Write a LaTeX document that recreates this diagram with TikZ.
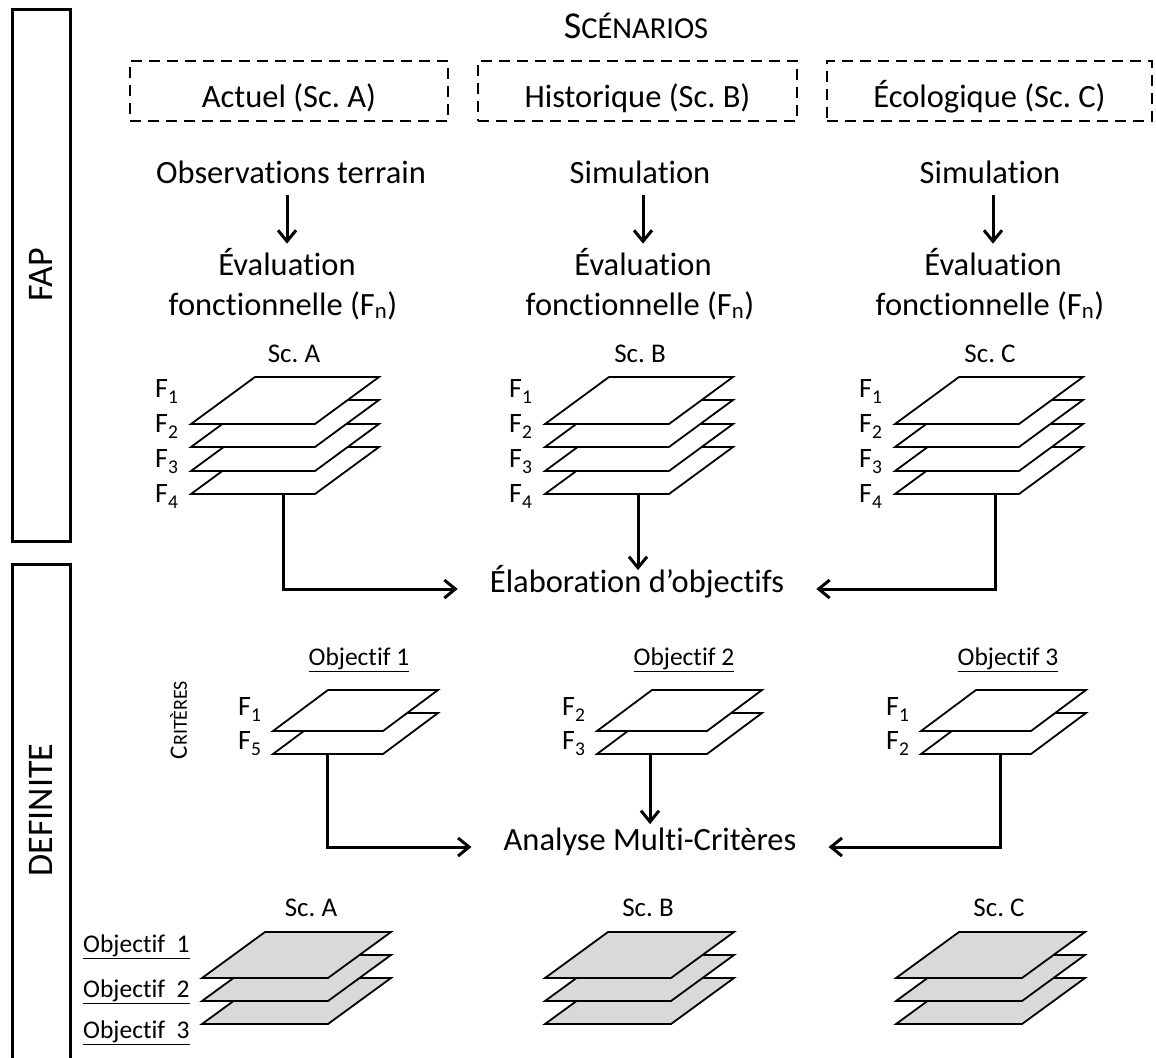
\documentclass[tikz,border=0pt]{standalone}
\usepackage{fontspec}
\setmainfont{Carlito}[Ligatures=NoCommon]
\usetikzlibrary{arrows.meta}
\definecolor{planegray}{RGB}{217,217,217}
\newcommand\fsz[1]{\fontsize{#1}{#1}\selectfont}
\newcommand\fsub[1]{\raisebox{-0.24em}{\fontsize{19.5}{19.5}\selectfont#1}}
\newcommand\myplane[6]{\draw[plane,fill=#6] (#1,#2) -- ++(#3,0) -- ++(#4,-#5) -- ++(-#3,0) -- cycle;}
\tikzset{
  txt/.style={inner sep=0pt, font=\fsz{32.5}},
  lbl/.style={inner sep=0pt, font=\fsz{27}},
  flbl/.style={inner sep=0pt, font=\fsz{28}},
  objlbl/.style={inner sep=0pt, font=\fsz{25.5}},
  side/.style={inner sep=0pt, font=\fsz{36}, rotate=90},
  framebox/.style={line width=3pt},
  dbox/.style={draw, line width=2.6pt, dash pattern=on 11pt off 7pt, minimum height=60pt, inner sep=0pt, font=\fsz{32.5}, text height=38pt, text depth=6pt},
  arr/.style={line width=3pt, -{Straight Barb[length=11pt,width=18pt]}},
  plane/.style={line width=1.8pt, line join=miter},
  flow/.style={inner sep=0pt, inner xsep=32pt, font=\fsz{32.5}, text height=0.94em, text depth=0.2em},
}
\begin{document}
\frenchspacing
\begin{tikzpicture}[x=1pt,y=-1pt]
\useasboundingbox (0,0) rectangle (1156,1057);
% side frames
\draw[framebox] (12.5,10) rectangle (70.5,541.5);
\node[side] (fap) at (41,275) {FAP};
\draw[framebox] (12.5,1064) -- (12.5,564.5) -- (70.5,564.5) -- (70.5,1064);
\node[side] (definite) at (41,810) {DEFINITE};
% scenarios
\node[inner sep=0pt, anchor=base] (scen) at (636,38) {{\fsz{38}S}{\fsz{30.5}CÉNARIOS}};
\node[dbox, minimum width=318pt] (boxA) at (289,91) {Actuel (Sc. A)};
\node[dbox, minimum width=319pt] (boxB) at (637.5,91) {Historique (Sc. B)};
\node[dbox, minimum width=325pt] (boxC) at (989.5,91) {Écologique (Sc. C)};
% top row
\node[txt, anchor=base] (obsA) at (291,183) {Observations terrain};
\node[txt, anchor=base] (simB) at (640,183) {Simulation};
\node[txt, anchor=base] (simC) at (990,183) {Simulation};
\node[txt, anchor=base] (evA) at (287,275) {Évaluation};
\node[txt, anchor=base] (evB) at (643,275) {Évaluation};
\node[txt, anchor=base] (evC) at (993,275) {Évaluation};
\node[txt, anchor=base] (fnA) at (283,315) {fonctionnelle (F\textsubscript{n})};
\node[txt, anchor=base] (fnB) at (640,315) {fonctionnelle (F\textsubscript{n})};
\node[txt, anchor=base] (fnC) at (990,315) {fonctionnelle (F\textsubscript{n})};
\draw[arr, shorten <=12pt, shorten >=4pt] (obsA.south -| evA.north) -- (evA.north);
\draw[arr, shorten <=12pt, shorten >=4pt] (simB.south -| evB.north) -- (evB.north);
\draw[arr, shorten <=12pt, shorten >=4pt] (simC.south -| evC.north) -- (evC.north);
% F stacks
\foreach \x/\s/\n/\l in {191/A/a/294,545/B/b/640,895/C/c/990}{
  \myplane{\x}{494}{124}{64}{47}{white}
  \myplane{\x}{471}{124}{64}{47}{white}
  \myplane{\x}{447}{124}{64}{47}{white}
  \myplane{\x}{424}{124}{64}{47}{white}
  \node[flbl, anchor=base west] (f\n1) at (\x-36,397) {F\fsub{1}};
  \node[flbl, anchor=base west] (f\n2) at (\x-36,432) {F\fsub{2}};
  \node[flbl, anchor=base west] (f\n3) at (\x-36,467) {F\fsub{3}};
  \node[flbl, anchor=base west] (f\n4) at (\x-36,502) {F\fsub{4}};
  \node[lbl, anchor=base] (sc\n) at (\l,362) {Sc. \s};
}
\coordinate (pA) at (283,494);
\coordinate (pB) at (638,494);
\coordinate (pC) at (995,494);
\node[flow] (elab) at (637,589) {Élaboration d’objectifs};
\draw[arr] (pA) |- (elab.west);
\draw[arr, shorten >=13pt] (pB) -- (pB |- elab.north);
\draw[arr] (pC) |- (elab.east);
% objectives
\node[objlbl, anchor=base] (o1) at (359,665) {\underline{Objectif 1}};
\node[objlbl, anchor=base] (o2) at (684,665) {\underline{Objectif 2}};
\node[objlbl, anchor=base] (o3) at (1008,665) {\underline{Objectif 3}};
\node[inner sep=0pt, rotate=90] (crit) at (178.5,720) {{\fsz{25}C}{\fsz{20}RITÈRES}};
\foreach \x/\a/\b/\n in {273/1/5/a,597/2/3/b,921/1/2/c}{
  \myplane{\x}{754}{110}{55}{41}{white}
  \myplane{\x}{731}{110}{55}{41}{white}
  \node[flbl, anchor=base west] (g\n1) at (\x-35,715) {F\fsub{\a}};
  \node[flbl, anchor=base west] (g\n2) at (\x-35,749) {F\fsub{\b}};
}
\coordinate (qA) at (327,754);
\coordinate (qB) at (650,754);
\coordinate (qC) at (1000,754);
\node[flow] (ana) at (650,847) {Analyse Multi-Critères};
\draw[arr] (qA) |- (ana.west);
\draw[arr, shorten >=17pt] (qB) -- (qB |- ana.north);
\draw[arr] (qC) |- (ana.east);
% results
\foreach \x/\s/\n/\l in {202/A/a/311,545/B/b/648,896/C/c/999}{
  \myplane{\x}{1024}{126}{63}{46}{planegray}
  \myplane{\x}{1001}{126}{63}{46}{planegray}
  \myplane{\x}{978}{126}{63}{46}{planegray}
  \node[lbl, anchor=base] (r\n) at (\l,916) {Sc. \s};
}
\node[objlbl, anchor=base west] (ro1) at (83,952) {\underline{Objectif~~1}};
\node[objlbl, anchor=base west] (ro2) at (83,997) {\underline{Objectif~~2}};
\node[objlbl, anchor=base west] (ro3) at (83,1038) {\underline{Objectif~~3}};
\end{tikzpicture}
\end{document}
